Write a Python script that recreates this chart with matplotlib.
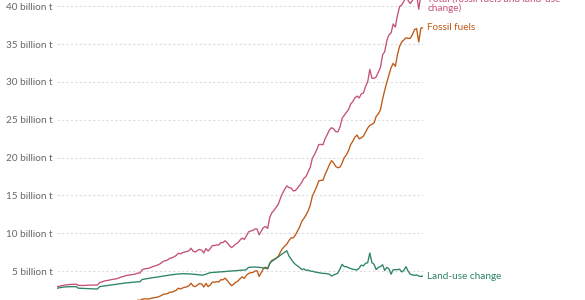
import numpy as np
import matplotlib
matplotlib.use("Agg")
import matplotlib.pyplot as plt

plt.rcParams['font.family'] = ['Lato', 'DejaVu Sans']

# 年份
years = np.arange(1850, 2023)

# 化石燃料排放 (十亿吨 CO2)
fossil = [
    0.20, 0.21, 0.22, 0.24, 0.26, 0.27, 0.29, 0.29, 0.30, 0.33,
    0.36, 0.38, 0.38, 0.41, 0.44, 0.46, 0.48, 0.51, 0.51, 0.53,
    0.54, 0.58, 0.64, 0.68, 0.65, 0.69, 0.70, 0.71, 0.72, 0.77,
    0.85, 0.88, 0.94, 0.99, 1.00, 1.00, 1.02, 1.07, 1.16, 1.15,
    1.29, 1.34, 1.34, 1.32, 1.39, 1.46, 1.50, 1.56, 1.64, 1.78,
    1.95, 1.98, 2.04, 2.22, 2.23, 2.34, 2.46, 2.75, 2.64, 2.78,
    2.87, 2.93, 3.06, 3.41, 3.02, 2.96, 3.19, 3.37, 3.30, 2.90,
    3.39, 2.95, 3.16, 3.56, 3.54, 3.61, 3.56, 3.88, 3.85, 4.07,
    3.78, 3.39, 3.09, 3.28, 3.53, 3.67, 4.00, 4.25, 4.03, 4.45,
    4.68, 4.80, 4.82, 5.02, 5.05, 4.30, 4.82, 5.33, 5.53, 5.32,
    6.00, 6.43, 6.55, 6.73, 6.94, 7.53, 7.99, 8.30, 8.56, 9.04,
    9.40, 9.40, 9.75, 10.27, 10.82, 11.55, 11.95, 12.40, 12.95, 13.70,
    14.90, 15.50, 16.13, 16.92, 17.00, 17.00, 17.80, 18.39, 19.05, 19.60,
    19.30, 18.83, 18.66, 18.75, 19.30, 19.99, 20.37, 20.91, 21.72, 22.15,
    22.70, 22.98, 22.48, 22.61, 22.84, 23.36, 23.89, 24.26, 24.39, 24.58,
    25.45, 25.78, 26.31, 27.70, 28.90, 29.96, 30.91, 31.87, 32.45, 32.05,
    33.60, 34.70, 35.26, 35.54, 35.83, 35.75, 35.75, 36.24, 36.90, 37.04,
    35.26, 37.12, 37.15,
]

# 土地利用变化排放 (十亿吨 CO2)
land_use = [
    2.73, 2.80, 2.85, 2.90, 2.92, 2.93, 2.95, 2.95, 2.96, 2.95,
    2.75, 2.74, 2.72, 2.71, 2.70, 2.68, 2.67, 2.66, 2.65, 2.64,
    2.95, 3.00, 3.04, 3.08, 3.12, 3.16, 3.20, 3.24, 3.28, 3.32,
    3.36, 3.40, 3.43, 3.46, 3.49, 3.52, 3.55, 3.57, 3.59, 3.60,
    3.90, 3.95, 4.00, 4.05, 4.10, 4.14, 4.18, 4.22, 4.26, 4.30,
    4.36, 4.40, 4.44, 4.48, 4.52, 4.56, 4.60, 4.62, 4.64, 4.66,
    4.66, 4.65, 4.64, 4.62, 4.60, 4.57, 4.54, 4.50, 4.47, 4.50,
    4.60, 4.70, 4.80, 4.82, 4.84, 4.86, 4.88, 4.90, 4.92, 4.95,
    4.98, 5.00, 5.02, 5.04, 5.06, 5.08, 5.10, 5.12, 5.15, 5.20,
    5.50, 5.52, 5.54, 5.55, 5.53, 5.50, 5.47, 5.43, 5.38, 5.32,
    6.10, 6.30, 6.50, 6.70, 6.90, 7.10, 7.30, 7.50, 7.70, 7.00,
    6.60, 6.20, 5.90, 5.70, 5.50, 5.20, 5.30, 5.10, 5.15, 5.00,
    5.00, 4.90, 4.85, 4.80, 4.75, 4.70, 4.70, 4.65, 4.60, 4.35,
    4.50, 4.60, 4.75, 5.30, 5.90, 5.60, 5.60, 5.45, 5.35, 5.25,
    5.20, 5.15, 5.40, 5.80, 5.70, 6.05, 6.10, 7.40, 6.10, 5.90,
    5.20, 5.50, 5.60, 5.85, 5.10, 5.50, 5.30, 4.60, 5.20, 5.20,
    5.20, 5.25, 4.90, 5.10, 5.60, 5.00, 4.60, 4.50, 4.45, 4.50,
    4.35, 4.30, 4.35,
]

# 总排放 = 化石燃料 + 土地利用变化
total = np.array(fossil) + np.array(land_use)

y_ticks = [5, 10, 15, 20, 25, 30, 35, 40]
y_labels = [f'{v} billion t' for v in y_ticks]

c_total, c_fossil, c_land = '#C4517A', '#BE5915', '#2C8465'

fig = plt.figure(figsize=(5.85, 3.0), dpi=100)
# 坐标区下边缘延伸到图片外面（原图底部被裁掉）
ax = fig.add_axes([57 / 585, -9 / 300, 366 / 585, 41 * 7.57 / 300])

ax.plot(years, total, color=c_total, lw=0.95)
ax.plot(years, fossil, color=c_fossil, lw=0.95)
ax.plot(years, land_use, color=c_land, lw=0.95)

ax.set_xlim(1850, 2022)
ax.set_ylim(0, 41)
ax.set_yticks(y_ticks)
ax.set_yticklabels(y_labels)
ax.set_xticks([])
ax.tick_params(axis='y', length=0, pad=3, labelsize=7.2, labelcolor='#666666')
ax.yaxis.grid(True, color='#dddddd', linestyle=(0, (2, 2)), linewidth=0.8)
for s in ax.spines.values():
    s.set_visible(False)

ax.annotate('Total (fossil fuels and land-use\nchange)', xy=(2022, 40.3), xytext=(3, 0),
            textcoords='offset points', va='center', ha='left',
            fontsize=7.2, color=c_total, linespacing=0.95, annotation_clip=False)
ax.annotate('Fossil fuels', xy=(2022, fossil[-1]), xytext=(3, 0),
            textcoords='offset points', va='center', ha='left',
            fontsize=7.2, color=c_fossil, annotation_clip=False)
ax.annotate('Land-use change', xy=(2022, land_use[-1]), xytext=(3, 0),
            textcoords='offset points', va='center', ha='left',
            fontsize=7.2, color=c_land, annotation_clip=False)

fig.savefig('out.png', dpi=100)
